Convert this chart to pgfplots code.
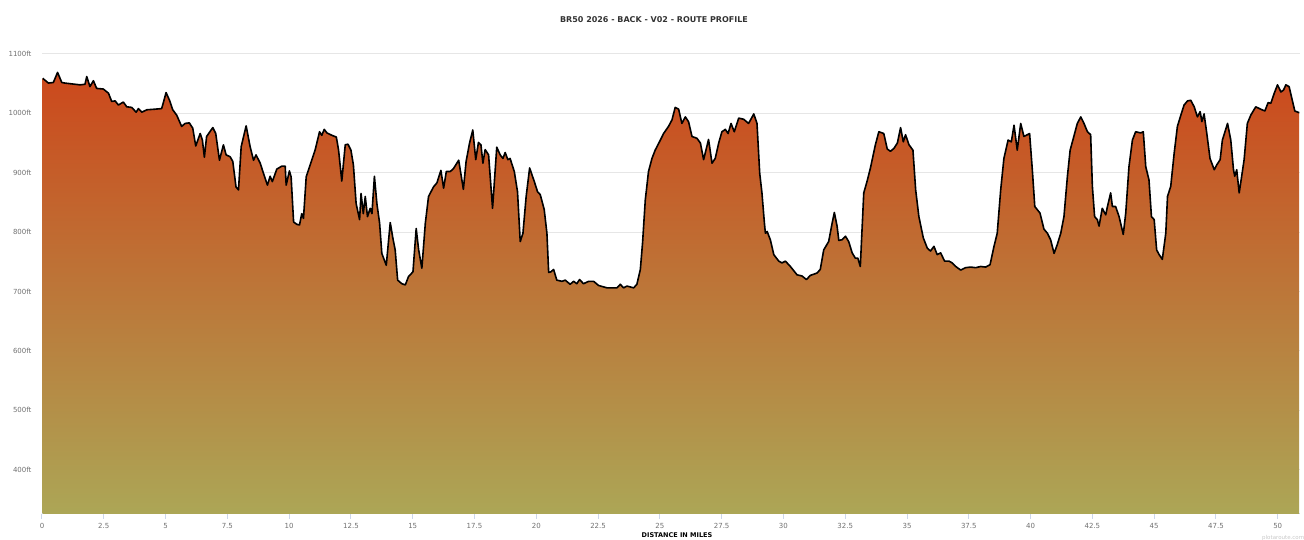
\documentclass[border=0pt]{standalone}
\usepackage{pgfplots}
\pgfplotsset{compat=1.18}
\usepackage{pgfplotstable}
\usepackage{fontspec}
\setmainfont{DejaVu Sans}
\definecolor{topc}{RGB}{204,72,28}
\definecolor{botc}{RGB}{172,166,86}
\definecolor{gridc}{HTML}{E6E6E6}
\definecolor{axc}{HTML}{CCD6EB}
\definecolor{labc}{HTML}{707070}
\pgfplotstableread{
x y
0.03 1059
0.26 1051
0.46 1052
0.63 1069
0.80 1052
0.93 1051
1.13 1050
1.54 1048
1.74 1049
1.81 1062
1.94 1045
2.08 1055
2.21 1042
2.48 1041
2.69 1034
2.82 1020
2.96 1021
3.09 1014
3.29 1019
3.43 1011
3.63 1010
3.81 1002
3.90 1008
4.04 1002
4.24 1006
4.57 1007
4.84 1008
4.91 1018
5.02 1035
5.16 1022
5.29 1006
5.45 997
5.65 978
5.79 983
5.96 984
6.10 975
6.22 945
6.40 966
6.49 955
6.57 926
6.66 961
6.91 976
7.03 966
7.18 921
7.34 947
7.45 930
7.61 927
7.72 919
7.85 876
7.95 871
8.06 944
8.26 979
8.42 944
8.56 921
8.66 930
8.83 916
8.96 899
9.12 879
9.23 894
9.32 885
9.50 906
9.70 911
9.84 911
9.88 879
10.01 903
10.08 893
10.18 817
10.31 813
10.42 812
10.51 831
10.58 823
10.69 893
10.85 913
11.05 938
11.23 969
11.32 963
11.42 973
11.53 967
11.73 963
11.91 960
12.00 938
12.13 886
12.27 947
12.38 948
12.50 938
12.60 913
12.71 848
12.85 821
12.91 865
13.00 831
13.08 860
13.17 826
13.28 840
13.35 831
13.45 894
13.55 848
13.66 815
13.75 764
13.93 744
14.09 816
14.20 789
14.29 770
14.39 719
14.56 713
14.70 711
14.83 725
15.01 733
15.14 806
15.24 770
15.37 739
15.51 815
15.64 860
15.84 876
15.98 883
16.14 904
16.25 874
16.36 902
16.52 902
16.65 907
16.86 921
17.05 872
17.16 919
17.30 950
17.43 972
17.55 922
17.66 951
17.76 947
17.84 916
17.93 939
18.07 930
18.23 840
18.40 943
18.54 930
18.65 924
18.74 934
18.85 922
18.94 924
19.11 902
19.24 868
19.35 784
19.46 798
19.59 860
19.73 908
19.92 885
20.05 868
20.16 863
20.32 838
20.43 798
20.50 732
20.59 733
20.70 737
20.83 719
21.04 717
21.17 719
21.37 712
21.51 717
21.64 713
21.75 720
21.91 713
22.12 717
22.32 717
22.52 710
22.86 706
23.26 706
23.40 712
23.53 706
23.67 709
23.94 706
24.07 712
24.21 737
24.30 782
24.41 854
24.54 902
24.68 924
24.81 938
25.02 955
25.15 966
25.35 978
25.49 989
25.62 1010
25.76 1007
25.89 983
26.03 994
26.16 986
26.30 961
26.50 958
26.64 950
26.77 922
26.97 956
27.11 916
27.24 924
27.38 950
27.51 969
27.65 973
27.76 966
27.88 983
28.01 969
28.19 992
28.39 990
28.59 983
28.80 999
28.93 983
29.04 899
29.13 866
29.23 815
29.27 798
29.34 801
29.47 787
29.61 762
29.81 751
29.94 748
30.08 751
30.28 742
30.55 728
30.75 726
30.93 720
31.09 727
31.36 731
31.49 737
31.63 770
31.83 784
31.97 815
32.06 833
32.17 810
32.24 786
32.37 787
32.51 793
32.64 784
32.78 765
32.91 756
33.01 756
33.11 742
33.25 866
33.38 885
33.52 908
33.72 947
33.86 969
34.06 966
34.20 940
34.33 936
34.47 941
34.61 950
34.74 976
34.85 952
34.94 964
35.08 947
35.24 938
35.35 871
35.48 826
35.66 790
35.82 773
35.95 768
36.09 776
36.22 762
36.36 765
36.52 751
36.70 751
36.83 748
36.97 742
37.17 736
37.37 740
37.57 741
37.78 740
37.98 742
38.18 741
38.36 745
38.52 776
38.65 798
38.79 871
38.92 924
39.09 955
39.22 952
39.33 980
39.46 938
39.60 983
39.73 961
39.96 966
40.07 905
40.17 843
40.38 832
40.54 805
40.68 798
40.81 787
40.95 764
41.08 779
41.22 798
41.35 826
41.49 894
41.60 938
41.73 958
41.89 983
42.03 994
42.16 983
42.30 969
42.43 964
42.50 877
42.59 826
42.70 821
42.77 810
42.90 840
43.04 829
43.11 843
43.24 866
43.31 843
43.44 843
43.58 826
43.75 796
43.85 832
43.98 910
44.12 955
44.25 969
44.46 967
44.56 969
44.66 910
44.79 888
44.89 826
45.00 821
45.10 770
45.20 762
45.33 754
45.47 798
45.54 860
45.67 877
45.81 933
45.94 978
46.08 997
46.21 1014
46.35 1021
46.48 1022
46.62 1011
46.75 994
46.86 1003
46.93 986
47.02 999
47.13 966
47.26 924
47.43 905
47.53 913
47.67 922
47.76 955
47.97 983
48.10 955
48.21 905
48.26 894
48.34 905
48.44 866
48.53 891
48.64 922
48.77 983
48.91 997
49.11 1011
49.31 1007
49.48 1004
49.61 1018
49.72 1017
49.86 1034
49.99 1048
50.13 1036
50.23 1039
50.33 1048
50.46 1045
50.60 1020
50.69 1004
50.87 1001
}\prof
\begin{document}
\begin{tikzpicture}[x=1pt,y=1pt]
\useasboundingbox (0,0) rectangle (1304,540);
\begin{axis}[
  at={(42pt,26pt)}, anchor=south west,
  width=1258pt, height=460pt, scale only axis,
  xmin=0, xmax=50.9, ymin=325, ymax=1100,
  axis x line*=bottom, axis y line*=left,
  x axis line style={draw=axc, line width=1pt},
  y axis line style={draw=none},
  ytick={400,500,600,700,800,900,1000,1100},
  yticklabels={400ft,500ft,600ft,700ft,800ft,900ft,1000ft,1100ft},
  ytick style={draw=none},
  xtick={0,2.5,5,7.5,10,12.5,15,17.5,20,22.5,25,27.5,30,32.5,35,37.5,40,42.5,45,47.5,50},
  xticklabels={0,2.5,5,7.5,10,12.5,15,17.5,20,22.5,25,27.5,30,32.5,35,37.5,40,42.5,45,47.5,50},
  xtick style={draw=axc, line width=1pt},
  tick align=outside, major tick length=5pt,
  ymajorgrids, grid style={draw=gridc, line width=1pt},
  tick label style={font=\fontsize{7}{8}\selectfont, text=labc},
  yticklabel style={xshift=-2pt},
  xticklabel style={yshift=-1pt},
  clip=true,
]
\addplot[draw=none, top color=topc, bottom color=botc] table[x=x,y=y] {\prof} -- (axis cs:50.87,325) -- (axis cs:0.03,325) -- cycle;
\addplot[draw=black, line width=1.6pt, line join=round, mark=none] table[x=x,y=y] {\prof};
\end{axis}
\node[font=\bfseries\fontsize{8}{9}\selectfont, text={rgb,255:red,51;green,51;blue,51}] at (654,520) {BR50 2026 - BACK - V02 - ROUTE PROFILE};
\node[font=\bfseries\fontsize{6.5}{7}\selectfont, text=black] at (677,4.5) {DISTANCE IN MILES};
\node[font=\fontsize{5.5}{6}\selectfont, text={rgb,255:red,200;green,200;blue,200}, anchor=west, inner sep=0pt] at (1262,2.5) {plotaroute.com};
\end{tikzpicture}
\end{document}
